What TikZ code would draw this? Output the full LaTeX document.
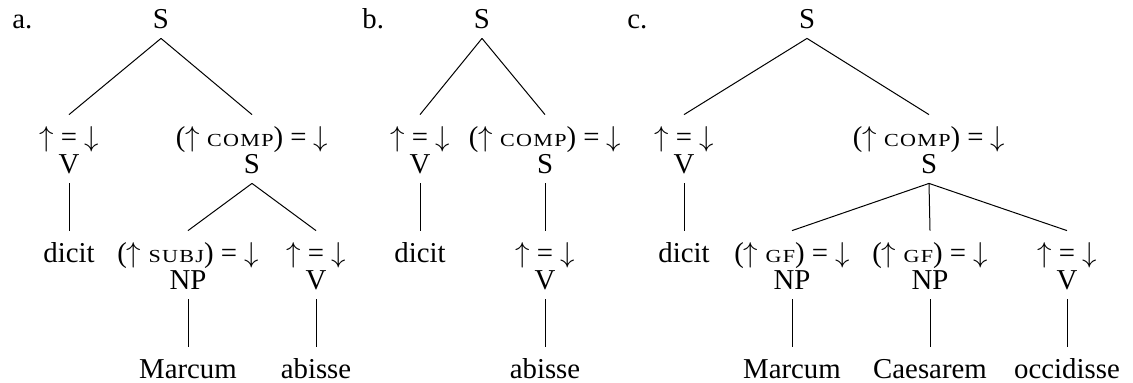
\documentclass[tikz,border=0pt]{standalone}
\usepackage{fontspec}
\setmainfont{Liberation Serif}
\newfontfamily\scfont[LetterSpace=6]{Liberation Serif}
\newcommand\fsc[1]{\scalebox{1.2}[1]{\scfont\fontsize{9.2}{9.2}\selectfont #1}}
\newcommand\arrUp{{\fontsize{14}{14}\selectfont$\uparrow$}}
\newcommand\arrDn{{\fontsize{14}{14}\selectfont$\downarrow$}}
\newcommand\eqd{\arrUp{} = \arrDn}
\tikzset{
  lbl/.style={anchor=base west, inner sep=0pt},
  cat/.style={anchor=base, inner sep=0pt, inner ysep=5pt, text height=10pt, text depth=0pt},
  ann/.style={anchor=base, inner sep=0pt, inner ysep=5pt, text height=10.5pt, text depth=2pt},
  leaf/.style={anchor=base, inner sep=0pt, inner ysep=5pt, text height=10.5pt, text depth=0pt},
  edge/.style={line width=0.5pt}
}
\begin{document}
\begin{tikzpicture}[x=0.5pt,y=-0.5pt,font=\fontsize{14.4}{16}\selectfont]
\useasboundingbox (0,0) rectangle (1133,382);
% tree a
\node[lbl] (la) at (12,28) {a.};
\node[cat] (aS) at (161,28) {S};
\node[ann] (aVa) at (69,146) {\eqd};
\node[cat] (aV) at (69,173) {V};
\node[leaf] (adicit) at (69,262) {dicit};
\node[ann] (aCa) at (252,146) {(\arrUp{} \fsc{COMP}) = \arrDn};
\node[cat] (aC) at (252,173) {S};
\node[ann] (aNPa) at (188,262) {(\arrUp{} \fsc{SUBJ}) = \arrDn};
\node[cat] (aNP) at (188,289) {NP};
\node[ann] (aV2a) at (316,262) {\eqd};
\node[cat] (aV2) at (316,289) {V};
\node[leaf] (aMarcum) at (188,378) {Marcum};
\node[leaf] (aabisse) at (316,378) {abisse};
\draw[edge] (aS.south) -- (aVa.north);
\draw[edge] (aS.south) -- (aCa.north);
\draw[edge] (aV.south) -- (adicit.north);
\draw[edge] (aC.south) -- (aNPa.north);
\draw[edge] (aC.south) -- (aV2a.north);
\draw[edge] (aNP.south) -- (aMarcum.north);
\draw[edge] (aV2.south) -- (aabisse.north);
% tree b
\node[lbl] (lb) at (362,28) {b.};
\node[cat] (bS) at (482,28) {S};
\node[ann] (bVa) at (420,146) {\eqd};
\node[cat] (bV) at (420,173) {V};
\node[leaf] (bdicit) at (420,262) {dicit};
\node[ann] (bCa) at (545,146) {(\arrUp{} \fsc{COMP}) = \arrDn};
\node[cat] (bC) at (545,173) {S};
\node[ann] (bV2a) at (545,262) {\eqd};
\node[cat] (bV2) at (545,289) {V};
\node[leaf] (babisse) at (545,378) {abisse};
\draw[edge] (bS.south) -- (bVa.north);
\draw[edge] (bS.south) -- (bCa.north);
\draw[edge] (bV.south) -- (bdicit.north);
\draw[edge] (bC.south) -- (bV2a.north);
\draw[edge] (bV2.south) -- (babisse.north);
% tree c
\node[lbl] (lc) at (627,28) {c.};
\node[cat] (cS) at (807,28) {S};
\node[ann] (cVa) at (684,146) {\eqd};
\node[cat] (cV) at (684,173) {V};
\node[leaf] (cdicit) at (684,262) {dicit};
\node[ann] (cCa) at (929,146) {(\arrUp{} \fsc{COMP}) = \arrDn};
\node[cat] (cC) at (929,173) {S};
\node[ann] (cN1a) at (792,262) {(\arrUp{} \fsc{GF}) = \arrDn};
\node[cat] (cN1) at (792,289) {NP};
\node[ann] (cN2a) at (930,262) {(\arrUp{} \fsc{GF}) = \arrDn};
\node[cat] (cN2) at (930,289) {NP};
\node[ann] (cV2a) at (1067,262) {\eqd};
\node[cat] (cV2) at (1067,289) {V};
\node[leaf] (cMarcum) at (792,378) {Marcum};
\node[leaf] (cCaesarem) at (930,378) {Caesarem};
\node[leaf] (coccidisse) at (1067,378) {occidisse};
\draw[edge] (cS.south) -- (cVa.north);
\draw[edge] (cS.south) -- (cCa.north);
\draw[edge] (cV.south) -- (cdicit.north);
\draw[edge] (cC.south) -- (cN1a.north);
\draw[edge] (cC.south) -- (cN2a.north);
\draw[edge] (cC.south) -- (cV2a.north);
\draw[edge] (cN1.south) -- (cMarcum.north);
\draw[edge] (cN2.south) -- (cCaesarem.north);
\draw[edge] (cV2.south) -- (coccidisse.north);
\end{tikzpicture}
\end{document}
